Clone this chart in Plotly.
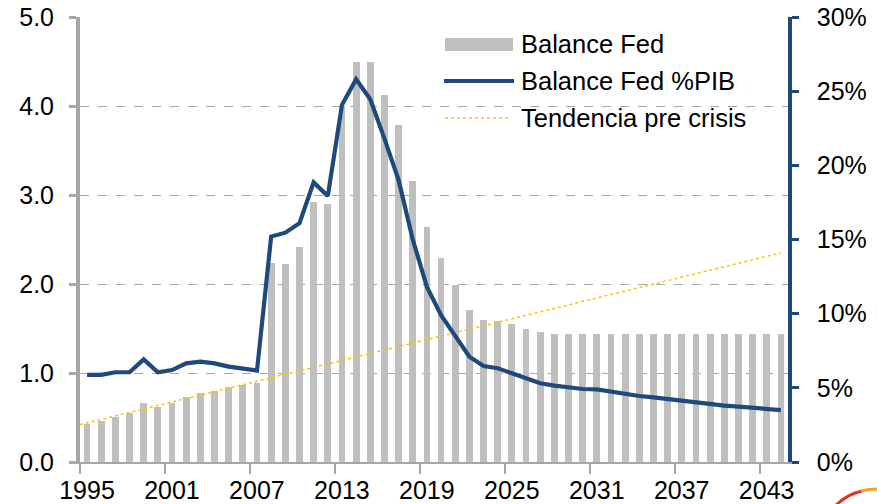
import plotly.graph_objects as go

# ---------------- data ----------------
years = list(range(1995, 2045))

balance_fed = [0.43, 0.46, 0.51, 0.55, 0.66, 0.62, 0.66, 0.73, 0.77, 0.80,
               0.84, 0.87, 0.89, 2.24, 2.23, 2.42, 2.92, 2.90, 4.00, 4.49,
               4.49, 4.12, 3.79, 3.16, 2.64, 2.29, 1.99, 1.71, 1.60, 1.58,
               1.55, 1.50, 1.46, 1.44, 1.44, 1.44, 1.44, 1.44, 1.44, 1.44,
               1.44, 1.44, 1.44, 1.44, 1.44, 1.44, 1.44, 1.44, 1.44, 1.44]

balance_pib = [5.87, 5.87, 6.05, 6.05, 6.92, 6.05, 6.20, 6.65, 6.76, 6.65,
               6.43, 6.32, 6.16, 15.20, 15.46, 16.10, 18.85, 17.93, 24.07, 25.80,
               24.45, 21.80, 19.00, 15.00, 11.80, 9.90, 8.45, 7.10, 6.47, 6.32,
               5.98, 5.64, 5.31, 5.15, 5.03, 4.92, 4.90, 4.74, 4.63, 4.45,
               4.36, 4.25, 4.07, 3.96, 3.89, 3.80, 3.73, 3.64, 3.57, 3.50]

trend_years = [1994.5, 2044]
trend_values = [0.42, 2.35]

tick_label_years = [1995, 2001, 2007, 2013, 2019, 2025, 2031, 2037, 2043]
left_ticks = [0, 1, 2, 3, 4, 5]
right_ticks = [0, 5, 10, 15, 20, 25, 30]

names = ["Balance Fed", "Balance Fed %PIB", "Tendencia pre crisis"]

# ---------------- style ----------------
FONT = "Liberation Sans, Arial, sans-serif"
GRAY_BAR = "#BFBFBF"
GRAY_AX = "#A6A6A6"
NAVY = "#1F497D"
ORANGE = "#FFC000"
FS = 25
FS_LEG = 25.5

W, H = 877, 504
L, T = 80, 17
R, B = W - 788, H - 462
PW, PH = W - L - R, H - T - B


def px(x):  # pixel -> paper
    return (x - L) / PW


def py(y):
    return (H - B - y) / PH


fig = go.Figure()

fig.add_trace(go.Bar(
    x=years, y=balance_fed, name=names[0],
    marker=dict(color=GRAY_BAR, line=dict(width=0)),
    width=0.48, yaxis="y", hoverinfo="x+y"))

fig.add_trace(go.Scatter(
    x=trend_years, y=trend_values, name=names[2], mode="lines",
    line=dict(color=ORANGE, width=1.5, dash="dot"), yaxis="y"))

fig.add_trace(go.Scatter(
    x=years, y=balance_pib, name=names[1], mode="lines",
    line=dict(color=NAVY, width=4.2), yaxis="y2"))

fig.update_layout(
    width=W, height=H,
    margin=dict(l=L, r=R, t=T, b=B, pad=0, autoexpand=False),
    paper_bgcolor="white", plot_bgcolor="white",
    showlegend=False,
    font=dict(family=FONT, size=FS, color="#000000"),
    bargap=0,
    xaxis=dict(
        range=[1994.5, 2044.5], automargin=False,
        tickmode="array",
        tickvals=[y - 0.5 for y in tick_label_years],
        ticktext=[str(y) for y in tick_label_years],
        ticklabelshift=7,
        ticklabelstandoff=-5,
        ticklabeloverflow="allow",
        ticks="outside", ticklen=10, tickwidth=1.5, tickcolor=GRAY_AX,
        showline=True, linecolor=GRAY_AX, linewidth=1.5,
        showgrid=False, zeroline=False,
        tickfont=dict(family=FONT, size=FS, color="#000000"),
    ),
    yaxis=dict(
        range=[0, 5], automargin=False,
        tickmode="array", tickvals=left_ticks,
        ticktext=[f"{v:.1f}" for v in left_ticks],
        ticks="outside", ticklen=7, tickwidth=3, tickcolor=GRAY_AX,
        ticklabelstandoff=10,
        ticklabeloverflow="allow",
        showline=True, linecolor=GRAY_AX, linewidth=4,
        showgrid=True, gridcolor=GRAY_AX, gridwidth=1, griddash="dash",
        zeroline=False,
        tickfont=dict(family=FONT, size=FS, color="#000000"),
    ),
    yaxis2=dict(
        range=[0, 30], overlaying="y", side="right", anchor="x",
        automargin=False,
        tickmode="array", tickvals=right_ticks,
        ticktext=[f"{v}%" for v in right_ticks],
        ticks="outside", ticklen=7, tickwidth=3, tickcolor=NAVY,
        ticklabelstandoff=13,
        ticklabeloverflow="allow",
        showline=True, linecolor=NAVY, linewidth=3.5,
        showgrid=False, zeroline=False,
        tickfont=dict(family=FONT, size=FS, color="#000000"),
    ),
)

# ---------------- manual legend ----------------
shapes = [
    dict(type="rect", xref="paper", yref="paper",
         x0=px(445), x1=px(513), y0=py(51), y1=py(38),
         fillcolor=GRAY_BAR, line=dict(width=0)),
    dict(type="line", xref="paper", yref="paper",
         x0=px(444), x1=px(514), y0=py(81), y1=py(81),
         line=dict(color=NAVY, width=4.2)),
    dict(type="line", xref="paper", yref="paper",
         x0=px(445), x1=px(511), y0=py(118), y1=py(118),
         line=dict(color=ORANGE, width=1.5, dash="dot")),
    # partial logo arc in the bottom-right corner
    dict(type="path", xref="paper", yref="paper",
         path=f"M {px(836)},{py(505)} Q {px(848)},{py(494)} {px(862)},{py(491)}",
         line=dict(color="#E8301C", width=3)),
    dict(type="path", xref="paper", yref="paper",
         path=f"M {px(861)},{py(491)} Q {px(870)},{py(489)} {px(878)},{py(489)}",
         line=dict(color="#F7A21B", width=3)),
]
fig.update_layout(shapes=shapes)

for name, ypix in zip(names, [44, 81, 118]):
    fig.add_annotation(
        xref="paper", yref="paper", x=px(519), y=py(ypix),
        text=name, showarrow=False, xanchor="left", yanchor="middle",
        font=dict(family=FONT, size=FS_LEG, color="#000000"))

fig.write_html(
    "out.html",
    config={"displayModeBar": False},
    post_script="document.body.style.margin='0';document.body.style.overflow='hidden';",
)
